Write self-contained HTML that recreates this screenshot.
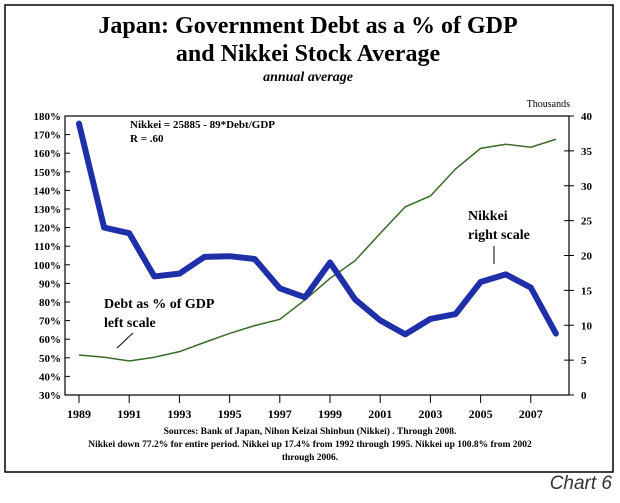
<!DOCTYPE html>
<html><head><meta charset="utf-8"><style>
body{margin:0;background:#fff;width:620px;height:498px;overflow:hidden;font-family:"Liberation Serif",serif;}
svg text{font-family:"Liberation Serif",serif;}
</style></head><body>
<svg width="620" height="498">
<rect x="5" y="5" width="608" height="467" fill="none" stroke="#000" stroke-width="1.5"/>
<text x="308" y="33" text-anchor="middle" font-size="24" font-weight="bold">Japan: Government Debt as a % of GDP</text>
<text x="308" y="61" text-anchor="middle" font-size="24" font-weight="bold">and Nikkei Stock Average</text>
<text x="308" y="81" text-anchor="middle" font-size="14" font-style="italic" font-weight="bold">annual average</text>
<text x="570" y="107" text-anchor="end" font-size="10">Thousands</text>
<g id="axes"></g>
<g id="plot"></g>
<text x="130" y="128" font-size="11" font-weight="bold">Nikkei = 25885 - 89*Debt/GDP</text>
<text x="130" y="142" font-size="11" font-weight="bold">R = .60</text>
<text x="104" y="308" font-size="14" font-weight="bold">Debt as % of GDP</text>
<text x="104" y="327" font-size="14" font-weight="bold">left scale</text>
<line x1="133" y1="333" x2="117" y2="348" stroke="#000"/>
<text x="468" y="220" font-size="14" font-weight="bold">Nikkei</text>
<text x="468" y="239" font-size="14" font-weight="bold">right scale</text>
<line x1="494" y1="246" x2="494" y2="264" stroke="#000"/>
<text x="310" y="434" text-anchor="middle" font-size="9.5" font-weight="bold">Sources: Bank of Japan, Nihon Keizai Shinbun (Nikkei) . Through 2008.</text>
<text x="310" y="447" text-anchor="middle" font-size="9.5" font-weight="bold">Nikkei down 77.2% for entire period. Nikkei up 17.4% from 1992 through 1995. Nikkei up 100.8% from 2002</text>
<text x="310" y="460" text-anchor="middle" font-size="9.5" font-weight="bold">through 2006.</text>
<text x="612" y="489" text-anchor="end" font-size="19" font-style="italic" fill="#333" style="font-family:'Liberation Sans',sans-serif">Chart 6</text>
</svg>
<script>
const years=[1989,1990,1991,1992,1993,1994,1995,1996,1997,1998,1999,2000,2001,2002,2003,2004,2005,2006,2007,2008];
const debtPct=[51.5,50.3,48.3,50.3,53.3,58.3,63.1,67.3,70.7,81.1,92.7,102.2,116.9,131.2,137,151.5,162.6,164.8,163.2,167.5];
const nikkei=[38.9,24.0,23.2,17.0,17.4,19.8,19.9,19.5,15.3,14.0,19.0,13.7,10.7,8.7,10.9,11.6,16.2,17.3,15.4,8.8];
const leftTicks=[30,40,50,60,70,80,90,100,110,120,130,140,150,160,170,180];
const rightTicks=[0,5,10,15,20,25,30,35,40];
const xLabels=[1989,1991,1993,1995,1997,1999,2001,2003,2005,2007];
const L=65,R=569,T=116,B=395;
const xs=y=>79+(y-1989)*25.1;
const yl=v=>B-(v-30)/150*(B-T);
const yr=v=>B-v/40*(B-T);
const NS="http://www.w3.org/2000/svg";
function mk(p,tag,at){const e=document.createElementNS(NS,tag);for(const k in at)e.setAttribute(k,at[k]);p.appendChild(e);return e;}
const ax=document.getElementById('axes'),pl=document.getElementById('plot');
const frame=mk(ax,'rect',{x:L,y:T,width:R-L,height:B-T,fill:'none',stroke:'#000','stroke-width':1.2});


leftTicks.forEach(v=>{
 const y=yl(v);
 const t=mk(ax,'line',{x1:L,y1:y,x2:L+5,y2:y,stroke:'#000'});
 
 
 const s=mk(ax,'text',{x:L-4,y:y+4,'text-anchor':'end','font-size':11,'font-weight':'bold'});s.textContent=v+'%';
 
 
});
rightTicks.forEach(v=>{
 const y=yr(v);
 const t=mk(ax,'line',{x1:R-5,y1:y,x2:R+5,y2:y,stroke:'#000'});
 
 
 const s=mk(ax,'text',{x:R+12,y:y+4,'font-size':11,'font-weight':'bold'});s.textContent=v;
 
 
});
xLabels.forEach(v=>{
 const x=xs(v);
 const t=mk(ax,'line',{x1:x,y1:B,x2:x,y2:B+8,stroke:'#000'});
 
 
 const s=mk(ax,'text',{x:x,y:418,'text-anchor':'middle','font-size':12,'font-weight':'bold'});s.textContent=v;
 
 
});
const dl=mk(pl,'polyline',{points:years.map((y,i)=>xs(y)+','+yl(debtPct[i])).join(' '),fill:'none',stroke:'#3a6a2a','stroke-width':1.5});


const nl=mk(pl,'polyline',{points:years.map((y,i)=>xs(y)+','+yr(nikkei[i])).join(' '),fill:'none',stroke:'#1f2fa8','stroke-width':6,'stroke-linejoin':'round','stroke-linecap':'round'});


</script>
</body></html>
